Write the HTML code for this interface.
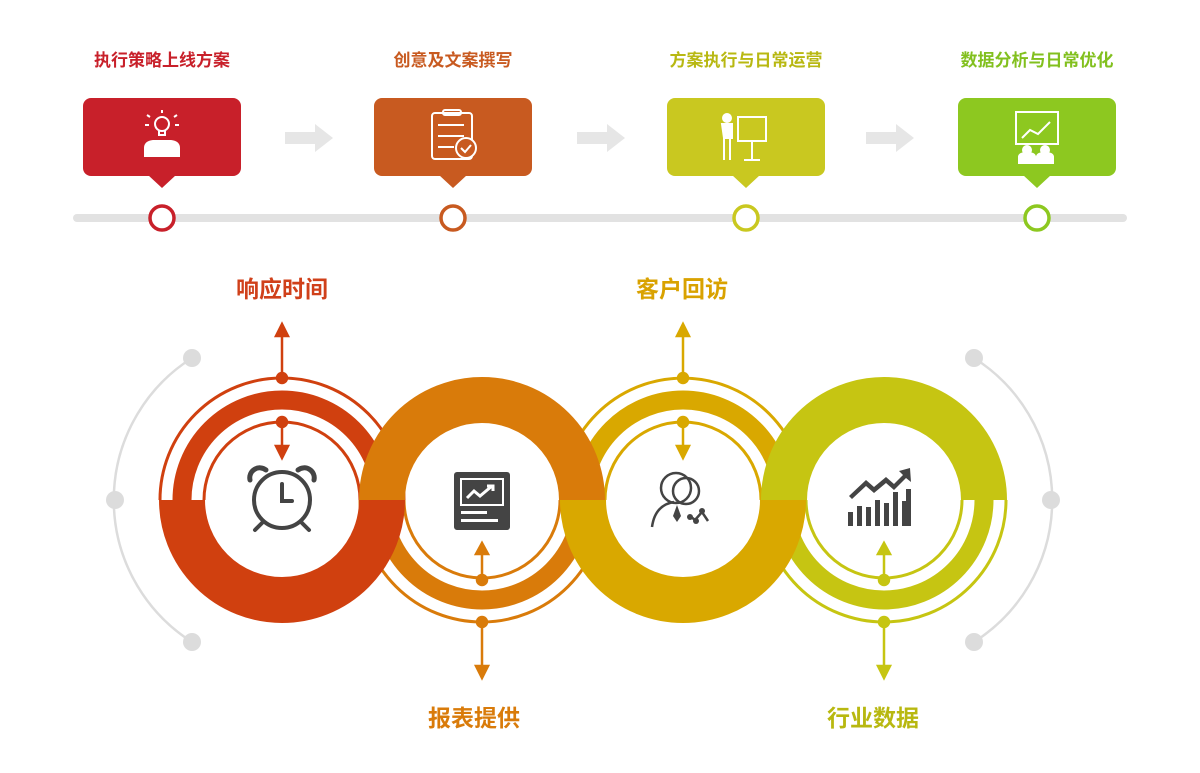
<!DOCTYPE html>
<html><head><meta charset="utf-8"><style>
html,body{margin:0;padding:0;background:#fff;}
svg text{font-family:"Liberation Sans","Noto Sans CJK SC",sans-serif;font-weight:bold;}
</style></head><body>
<svg width="1200" height="768" viewBox="0 0 1200 768" xmlns="http://www.w3.org/2000/svg">
<!-- top titles -->
<text x="162" y="66" font-size="17" fill="#c8202a" text-anchor="middle">执行策略上线方案</text>
<text x="453" y="66" font-size="17" fill="#c85a20" text-anchor="middle">创意及文案撰写</text>
<text x="746" y="66" font-size="17" fill="#b8b812" text-anchor="middle">方案执行与日常运营</text>
<text x="1037" y="66" font-size="17" fill="#82c01e" text-anchor="middle">数据分析与日常优化</text>
<!-- timeline -->
<line x1="77" y1="218" x2="1123" y2="218" stroke="#e2e2e2" stroke-width="8" stroke-linecap="round"/>
<g>
<rect x="83" y="98" width="158" height="78" rx="8" fill="#c8202a"/><polygon points="148,175 176,175 162,188" fill="#c8202a"/>
<rect x="374" y="98" width="158" height="78" rx="8" fill="#c85a20"/><polygon points="439,175 467,175 453,188" fill="#c85a20"/>
<rect x="667" y="98" width="158" height="78" rx="8" fill="#c9c820"/><polygon points="732,175 760,175 746,188" fill="#c9c820"/>
<rect x="958" y="98" width="158" height="78" rx="8" fill="#8dc820"/><polygon points="1023,175 1051,175 1037,188" fill="#8dc820"/>
</g>
<g fill="#fff" stroke-width="3.5">
<circle cx="162" cy="218" r="12" stroke="#c8202a"/>
<circle cx="453" cy="218" r="12" stroke="#c85a20"/>
<circle cx="746" cy="218" r="12" stroke="#c9c820"/>
<circle cx="1037" cy="218" r="12" stroke="#8dc820"/>
</g>
<!-- grey arrows -->
<g fill="#e6e6e6">
<polygon points="285,132 315,132 315,124 333,138 315,152 315,144 285,144"/>
<polygon points="577,132 607,132 607,124 625,138 607,152 607,144 577,144"/>
<polygon points="866,132 896,132 896,124 914,138 896,152 896,144 866,144"/>
</g>
<!-- top icons (white) -->
<g stroke="#fff" fill="none" stroke-width="2">
<circle cx="162" cy="124" r="7"/><path d="M159,131v4h6v-4"/>
<path d="M150,117l-3,-2M174,117l3,-2M149,125h-4M175,125h4M162,113v-3"/>
<path d="M145,156v-8q0,-6 8,-7h18q8,1 8,7v8z" fill="#fff"/>
<rect x="432" y="113" width="40" height="46" rx="3"/><rect x="443" y="110" width="18" height="5" rx="2"/>
<path d="M438,125h26M438,136h26M438,147h16"/><circle cx="466" cy="148" r="10" fill="#c85a20"/><path d="M461,148l4,4l6,-7"/>
<rect x="738" y="117" width="28" height="24"/><circle cx="727" cy="118" r="4" fill="#fff"/><path d="M722,124h10v14h-8z" fill="#fff"/><path d="M724,138v22M730,138v22M752,141v18M744,160h16"/>
<rect x="1016" y="112" width="42" height="32"/><path d="M1022,138l8,-8l8,4l12,-12" /><circle cx="1027" cy="150" r="4" fill="#fff"/><circle cx="1045" cy="150" r="4" fill="#fff"/><path d="M1019,163v-6q0,-4 8,-4q8,0 8,4v6zM1037,163v-6q0,-4 8,-4q8,0 8,4v6z" fill="#fff"/>
</g>
<!-- grey side arcs -->
<g stroke="#dcdcdc" stroke-width="2.5" fill="none">
<path d="M192,358 A168,168 0 0 0 192,642"/>
<path d="M974,358 A168,168 0 0 1 974,642"/>
</g>
<g fill="#dcdcdc">
<circle cx="192" cy="358" r="9"/><circle cx="115" cy="500" r="9"/><circle cx="192" cy="642" r="9"/>
<circle cx="974" cy="358" r="9"/><circle cx="1051" cy="500" r="9"/><circle cx="974" cy="642" r="9"/>
</g>
<!-- thin halves -->
<g fill="none">
<!-- c1 top thin (red) -->
<g stroke="#d0400f">
<path d="M182,500 A100,100 0 0 1 382,500" stroke-width="19"/>
<path d="M160,500 A122,122 0 0 1 404,500" stroke-width="3"/>
<path d="M204,500 A78,78 0 0 1 360,500" stroke-width="3"/>
</g>
<!-- c3 top thin (yellow) -->
<g stroke="#d9a800">
<path d="M583,500 A100,100 0 0 1 783,500" stroke-width="19"/>
<path d="M561,500 A122,122 0 0 1 805,500" stroke-width="3"/>
<path d="M605,500 A78,78 0 0 1 761,500" stroke-width="3"/>
</g>
<!-- c2 bottom thin (orange) -->
<g stroke="#d97b0a">
<path d="M382,500 A100,100 0 0 0 582,500" stroke-width="19"/>
<path d="M360,500 A122,122 0 0 0 604,500" stroke-width="3"/>
<path d="M404,500 A78,78 0 0 0 560,500" stroke-width="3"/>
</g>
<!-- c4 bottom thin (green-yellow) -->
<g stroke="#c6c512">
<path d="M784,500 A100,100 0 0 0 984,500" stroke-width="19"/>
<path d="M762,500 A122,122 0 0 0 1006,500" stroke-width="3"/>
<path d="M806,500 A78,78 0 0 0 962,500" stroke-width="3"/>
</g>
<!-- full halves -->
<path d="M382,500 A100,100 0 0 1 582,500" stroke="#d97b0a" stroke-width="46"/>
<path d="M784,500 A100,100 0 0 1 984,500" stroke="#c6c512" stroke-width="46"/>
<path d="M182,500 A100,100 0 0 0 382,500" stroke="#d0400f" stroke-width="46"/>
<path d="M583,500 A100,100 0 0 0 783,500" stroke="#d9a800" stroke-width="46"/>
</g>
<!-- connectors -->
<g stroke-width="2.5">
<g stroke="#d0400f" fill="#d0400f">
<line x1="282" y1="378" x2="282" y2="334"/><polygon points="276,336 288,336 282,324"/><circle cx="282" cy="378" r="5"/>
<line x1="282" y1="422" x2="282" y2="448"/><polygon points="276,446 288,446 282,458"/><circle cx="282" cy="422" r="5"/>
</g>
<g stroke="#d9a800" fill="#d9a800">
<line x1="683" y1="378" x2="683" y2="334"/><polygon points="677,336 689,336 683,324"/><circle cx="683" cy="378" r="5"/>
<line x1="683" y1="422" x2="683" y2="448"/><polygon points="677,446 689,446 683,458"/><circle cx="683" cy="422" r="5"/>
</g>
<g stroke="#d97b0a" fill="#d97b0a">
<line x1="482" y1="580" x2="482" y2="552"/><polygon points="476,554 488,554 482,543"/><circle cx="482" cy="580" r="5"/>
<line x1="482" y1="622" x2="482" y2="668"/><polygon points="476,666 488,666 482,678"/><circle cx="482" cy="622" r="5"/>
</g>
<g stroke="#c6c512" fill="#c6c512">
<line x1="884" y1="580" x2="884" y2="552"/><polygon points="878,554 890,554 884,543"/><circle cx="884" cy="580" r="5"/>
<line x1="884" y1="622" x2="884" y2="668"/><polygon points="878,666 890,666 884,678"/><circle cx="884" cy="622" r="5"/>
</g>
</g>
<!-- center icons (dark grey) -->
<g stroke="#444" fill="none" stroke-width="4" stroke-linecap="round">
<circle cx="282" cy="500" r="28"/><path d="M282,484v17h10"/>
<path d="M250,480a10,10 0 0 1 16,-10M314,480a10,10 0 0 0 -16,-10" stroke-width="5"/>
<path d="M262,523l-7,7M302,523l7,7"/>
</g>
<g>
<rect x="454" y="472" width="56" height="58" rx="3" fill="#444"/>
<rect x="460" y="478" width="44" height="28" fill="#fff"/><rect x="462" y="480" width="40" height="24" fill="#444"/>
<path d="M467,498l7,-7l6,5l12,-10m-5,0h6v5" stroke="#fff" stroke-width="3" fill="none"/>
<rect x="461" y="511" width="26" height="3" fill="#fff"/><rect x="461" y="519" width="37" height="3" fill="#fff"/>
</g>
<g stroke="#444" fill="none" stroke-width="2.5">
<circle cx="676" cy="488" r="15"/><circle cx="686" cy="491" r="13"/>
<path d="M652,527q3,-22 22,-25"/>
<path d="M690,516l5,4l7,-8l6,9"/>
</g>
<polygon points="677,505 681,516 677,522 673,516" fill="#444"/>
<g fill="#444"><circle cx="690" cy="517" r="3"/><circle cx="702" cy="511" r="3"/><circle cx="696" cy="521" r="3"/></g>
<g fill="#444">
<rect x="848" y="512" width="5" height="14"/><rect x="857" y="506" width="5" height="20"/><rect x="866" y="507" width="5" height="19"/><rect x="875" y="500" width="5" height="26"/><rect x="884" y="503" width="5" height="23"/><rect x="893" y="492" width="5" height="34"/><rect x="902" y="501" width="5" height="25"/><rect x="906" y="489" width="5" height="37"/>
<polygon points="910,468 911,482 906,478 894,490 886,483 874,493 866,486 852,499 849,496 866,480 874,487 886,477 894,484 903,475 899,471"/>
</g>
<!-- labels -->
<text x="282" y="297" font-size="23" fill="#d0401a" text-anchor="middle">响应时间</text>
<text x="682" y="297" font-size="23" fill="#d9a200" text-anchor="middle">客户回访</text>
<text x="474" y="726" font-size="23" fill="#d97b0a" text-anchor="middle">报表提供</text>
<text x="873" y="726" font-size="23" fill="#b8b810" text-anchor="middle">行业数据</text>
</svg>
</body></html>
